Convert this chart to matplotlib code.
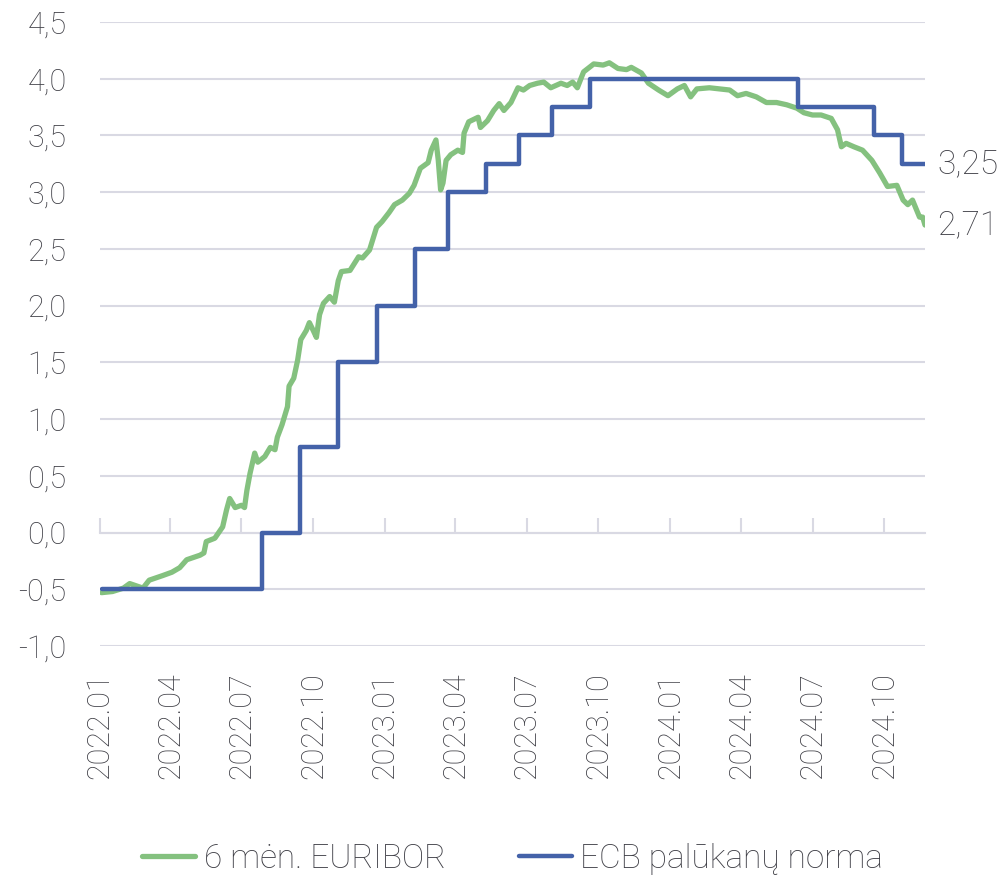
import matplotlib
matplotlib.use("Agg")
import matplotlib.pyplot as plt
import pandas as pd

plt.rcParams['font.family'] = ['Roboto', 'DejaVu Sans']
plt.rcParams['font.weight'] = 'light'

TEXT_COLOR = '#3f3f46'
GREEN = '#84c17f'
BLUE = '#4462a9'
GRID = '#d9d9e3'

# 6 month EURIBOR
euribor_dates = [
    '2022-01-03', '2022-01-17', '2022-01-31', '2022-02-08', '2022-02-25',
    '2022-03-05', '2022-03-22', '2022-04-03', '2022-04-13', '2022-04-22',
    '2022-05-09', '2022-05-14', '2022-05-17', '2022-05-28', '2022-06-07',
    '2022-06-12', '2022-06-16', '2022-06-23', '2022-07-01', '2022-07-05',
    '2022-07-08', '2022-07-12', '2022-07-18', '2022-07-22', '2022-07-31',
    '2022-08-07', '2022-08-13', '2022-08-16', '2022-08-22', '2022-08-29',
    '2022-08-31', '2022-09-06', '2022-09-11', '2022-09-15', '2022-09-22',
    '2022-09-26', '2022-10-01', '2022-10-05', '2022-10-09', '2022-10-14',
    '2022-10-22', '2022-10-28', '2022-11-02', '2022-11-06', '2022-11-17',
    '2022-11-28', '2022-12-03', '2022-12-12', '2022-12-21', '2022-12-28',
    '2023-01-06', '2023-01-13', '2023-01-23', '2023-02-01', '2023-02-07',
    '2023-02-15', '2023-02-25', '2023-03-01', '2023-03-07', '2023-03-10',
    '2023-03-13', '2023-03-16', '2023-03-20', '2023-03-26', '2023-04-04',
    '2023-04-10', '2023-04-12', '2023-04-18', '2023-04-30', '2023-05-03',
    '2023-05-12', '2023-05-20', '2023-05-27', '2023-06-02', '2023-06-11',
    '2023-06-20', '2023-06-27', '2023-07-05', '2023-07-15', '2023-07-23',
    '2023-08-01', '2023-08-14', '2023-08-22', '2023-08-29', '2023-09-04',
    '2023-09-12', '2023-09-25', '2023-10-07', '2023-10-15', '2023-10-26',
    '2023-11-06', '2023-11-12', '2023-11-25', '2023-12-04', '2023-12-17',
    '2023-12-29', '2024-01-10', '2024-01-19', '2024-01-27', '2024-02-04',
    '2024-02-20', '2024-03-04', '2024-03-17', '2024-03-27', '2024-04-07',
    '2024-04-20', '2024-05-03', '2024-05-16', '2024-05-29', '2024-06-11',
    '2024-06-20', '2024-07-01', '2024-07-12', '2024-07-25', '2024-08-02',
    '2024-08-07', '2024-08-13', '2024-08-23', '2024-09-03', '2024-09-15',
    '2024-09-25', '2024-10-05', '2024-10-17', '2024-10-25', '2024-10-31',
    '2024-11-06', '2024-11-15', '2024-11-19', '2024-11-22',
]
euribor_values = [
    -0.53, -0.52, -0.49, -0.45, -0.49,
    -0.42, -0.38, -0.35, -0.31, -0.24,
    -0.20, -0.18, -0.08, -0.05, 0.05,
    0.20, 0.30, 0.22, 0.24, 0.22,
    0.37, 0.52, 0.70, 0.62, 0.67,
    0.75, 0.73, 0.84, 0.95, 1.11,
    1.29, 1.36, 1.52, 1.70, 1.78,
    1.85, 1.78, 1.72, 1.92, 2.02,
    2.08, 2.03, 2.22, 2.30, 2.31,
    2.43, 2.42, 2.49, 2.69, 2.74,
    2.82, 2.89, 2.93, 2.99, 3.06,
    3.21, 3.26, 3.37, 3.46, 3.28,
    3.02, 3.08, 3.28, 3.33, 3.37,
    3.35, 3.52, 3.62, 3.66, 3.57,
    3.63, 3.72, 3.78, 3.72, 3.79,
    3.92, 3.90, 3.94, 3.96, 3.97,
    3.92, 3.96, 3.94, 3.97, 3.92,
    4.06, 4.13, 4.12, 4.14, 4.09,
    4.08, 4.10, 4.05, 3.96, 3.90,
    3.85, 3.91, 3.94, 3.84, 3.91,
    3.92, 3.91, 3.90, 3.85, 3.87,
    3.84, 3.79, 3.79, 3.77, 3.74,
    3.70, 3.68, 3.68, 3.65, 3.55,
    3.40, 3.43, 3.40, 3.37, 3.28,
    3.17, 3.05, 3.06, 2.93, 2.89,
    2.93, 2.78, 2.78, 2.71,
]

# ECB deposit facility rate changes
ecb_dates = [
    '2022-01-03', '2022-07-27', '2022-09-14', '2022-11-02', '2022-12-21',
    '2023-02-08', '2023-03-22', '2023-05-10', '2023-06-21', '2023-08-02',
    '2023-09-20', '2024-06-12', '2024-09-18', '2024-10-23', '2024-11-22',
]
ecb_rates = [-0.5, 0.0, 0.75, 1.5, 2.0, 2.5, 3.0, 3.25, 3.5, 3.75, 4.0, 3.75, 3.5, 3.25, 3.25]

tick_labels = ['2022.01', '2022.04', '2022.07', '2022.10', '2023.01', '2023.04',
               '2023.07', '2023.10', '2024.01', '2024.04', '2024.07', '2024.10']

eur = pd.Series(euribor_values, index=pd.to_datetime(euribor_dates))
ecb = pd.Series(ecb_rates, index=pd.to_datetime(ecb_dates))

fig = plt.figure(figsize=(10.05, 8.82), dpi=100)
ax = fig.add_axes([0.0995, 0.2676, 0.8209, 0.7075])

ax.plot(eur.index, eur.values, color=GREEN, lw=3.8, solid_capstyle='round',
        solid_joinstyle='round', label='6 mėn. EURIBOR', zorder=3)
ax.plot(ecb.index, ecb.values, color=BLUE, lw=3.2, drawstyle='steps-post',
        solid_capstyle='round', label='ECB palūkanų norma', zorder=4)

ax.set_ylim(-1.0, 4.5)
ax.set_yticks([-1.0 + 0.5 * i for i in range(12)])
ax.set_yticklabels([f"{-1.0 + 0.5 * i:.1f}".replace('.', ',') for i in range(12)])
ax.set_xlim(pd.Timestamp('2022-01-03'), pd.Timestamp('2024-11-22'))
ax.grid(axis='y', color=GRID, lw=1.5)
ax.set_axisbelow(True)

for s in ['top', 'right', 'left']:
    ax.spines[s].set_visible(False)
# horizontal axis line sits at zero with ticks pointing up
ax.spines['bottom'].set_position(('data', 0))
ax.spines['bottom'].set_color(GRID)
ax.spines['bottom'].set_linewidth(1.5)

tick_pos = pd.to_datetime([t.replace('.', '-') + '-01' for t in tick_labels])
ax.set_xticks(tick_pos)
ax.tick_params(axis='x', direction='in', length=11, width=1.5, color=GRID, labelbottom=False)
ax.tick_params(axis='y', length=0, pad=24, labelsize=22, labelcolor=TEXT_COLOR)

sec = ax.secondary_xaxis('bottom')
sec.set_xticks(tick_pos)
sec.set_xticklabels(tick_labels, rotation=90)
sec.tick_params(length=0, pad=19, labelsize=22, labelcolor=TEXT_COLOR)
sec.spines['bottom'].set_visible(False)

for ser in (ecb, eur):
    ax.annotate(f"{ser.values[-1]:.2f}".replace('.', ','), xy=(ser.index[-1], ser.values[-1]),
                xytext=(9, 0), textcoords='offset points', va='center', ha='left',
                fontsize=24, color=TEXT_COLOR, annotation_clip=False)

fig.legend(loc='center', bbox_to_anchor=(0.51, 0.026), ncol=2, frameon=False,
           fontsize=24, handlelength=1.6, handletextpad=0.25, columnspacing=2.2,
           labelcolor=TEXT_COLOR)

fig.savefig('out.png', dpi=100)
